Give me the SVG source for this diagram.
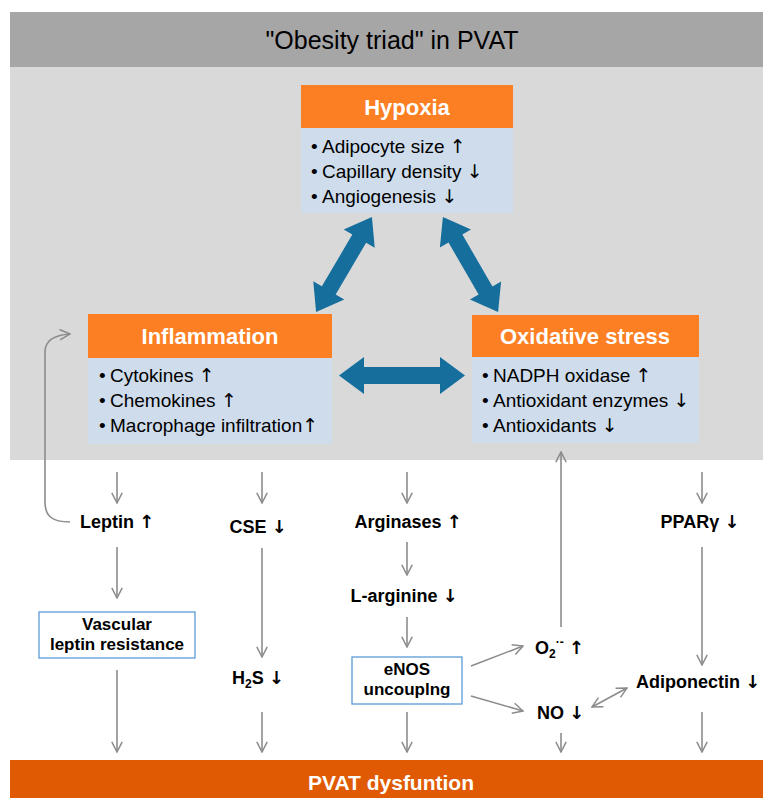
<svg xmlns="http://www.w3.org/2000/svg" width="763" height="798" viewBox="0 0 763 798">
<style>
  .t { font-family: "Liberation Sans", Arial, sans-serif; }
  .hdr { font-family: "Liberation Sans", Arial, sans-serif; font-weight: bold; font-size: 22px; fill: #ffffff; text-anchor: middle; }
  .bul { font-family: "Liberation Sans", Arial, sans-serif; font-size: 19px; fill: #000000; }
  .lab { font-family: "Liberation Sans", Arial, sans-serif; font-weight: bold; font-size: 18px; fill: #000000; }
  .lab2 { font-family: "Liberation Sans", Arial, sans-serif; font-weight: bold; font-size: 17px; fill: #000000; text-anchor: middle; }
  .ar { font-family: "DejaVu Sans", sans-serif; }
  .mid { text-anchor: middle; }
  .orange { fill: #fd7f23; }
  .body { fill: #cedcec; }
  .conn { stroke: #8c8c8c; stroke-width: 1.6; fill: none; }
  .blue { fill: #156e9c; }
  .wbox { fill: #ffffff; stroke: #5b9bd5; stroke-width: 1.3; }
</style>
<defs>
  <marker id="ah" viewBox="0 0 12 12" refX="11" refY="6" markerWidth="12" markerHeight="12" markerUnits="userSpaceOnUse" orient="auto-start-reverse">
    <path d="M0.8,0.8 L11,6 L0.8,11.2" fill="none" stroke="#8c8c8c" stroke-width="1.5"/>
  </marker>
</defs>

<rect x="0" y="0" width="763" height="798" fill="#ffffff"/>
<g id="background">
  <rect x="10" y="12" width="753" height="55" fill="#a6a6a6"/>
  <rect x="10" y="67" width="753" height="393" fill="#d9d9d9"/>
  <text class="t" x="392" y="49" font-size="25" text-anchor="middle" fill="#000000">"Obesity triad" in PVAT</text>
</g>

<g id="hypoxia">
  <rect class="orange" x="301" y="85" width="212" height="43"/>
  <rect class="body" x="301" y="128" width="212" height="85"/>
  <text class="hdr" x="407" y="115">Hypoxia</text>
  <text class="bul" y="153"><tspan x="311">•</tspan><tspan x="322">Adipocyte size </tspan><tspan class="ar">↑</tspan></text>
  <text class="bul" y="178"><tspan x="311">•</tspan><tspan x="322">Capillary density </tspan><tspan class="ar">↓</tspan></text>
  <text class="bul" y="203"><tspan x="311">•</tspan><tspan x="322">Angiogenesis </tspan><tspan class="ar">↓</tspan></text>
</g>

<g id="inflammation">
  <rect class="orange" x="88" y="314" width="244" height="44"/>
  <rect class="body" x="88" y="358" width="244" height="86"/>
  <text class="hdr" x="210" y="344">Inflammation</text>
  <text class="bul" y="382"><tspan x="99">•</tspan><tspan x="110">Cytokines </tspan><tspan class="ar">↑</tspan></text>
  <text class="bul" y="407"><tspan x="99">•</tspan><tspan x="110">Chemokines </tspan><tspan class="ar">↑</tspan></text>
  <text class="bul" y="432"><tspan x="99">•</tspan><tspan x="110">Macrophage infiltration</tspan><tspan class="ar">↑</tspan></text>
</g>

<g id="oxidative-stress">
  <rect class="orange" x="472" y="315" width="227" height="42"/>
  <rect class="body" x="472" y="357" width="227" height="86"/>
  <text class="hdr" x="585" y="344">Oxidative stress</text>
  <text class="bul" y="382"><tspan x="482">•</tspan><tspan x="493">NADPH oxidase </tspan><tspan class="ar">↑</tspan></text>
  <text class="bul" y="407"><tspan x="482">•</tspan><tspan x="493">Antioxidant enzymes </tspan><tspan class="ar">↓</tspan></text>
  <text class="bul" y="432"><tspan x="482">•</tspan><tspan x="493">Antioxidants </tspan><tspan class="ar">↓</tspan></text>
</g>

<g id="leptin"><text class="lab mid" x="117" y="528">Leptin <tspan class="ar">↑</tspan></text></g>
<g id="vascular-leptin-resistance">
  <rect class="wbox" x="39" y="612" width="156" height="46"/>
  <text class="lab2" x="117" y="630">Vascular</text>
  <text class="lab2" x="117" y="650">leptin resistance</text>
</g>
<g id="cse"><text class="lab mid" x="258" y="533">CSE <tspan class="ar">↓</tspan></text></g>
<g id="h2s"><text class="lab mid" x="258" y="684">H<tspan font-size="12" dy="4">2</tspan><tspan dy="-4">S </tspan><tspan class="ar">↓</tspan></text></g>
<g id="arginases"><text class="lab mid" x="408" y="528">Arginases <tspan class="ar">↑</tspan></text></g>
<g id="l-arginine"><text class="lab mid" x="404" y="602">L-arginine <tspan class="ar">↓</tspan></text></g>
<g id="enos-uncoupling">
  <rect class="wbox" x="352" y="657" width="110" height="47"/>
  <text class="lab2" x="407" y="675">eNOS</text>
  <text class="lab2" x="407" y="695">uncouplng</text>
</g>
<g id="superoxide"><text class="lab" x="535" y="654">O<tspan font-size="12" dy="4">2</tspan><tspan font-size="12" dy="-12">·-</tspan><tspan dy="8"> </tspan><tspan class="ar">↑</tspan></text></g>
<g id="no"><text class="lab" x="537" y="719">NO <tspan class="ar">↓</tspan></text></g>
<g id="ppar"><text class="lab mid" x="700" y="528">PPARγ <tspan class="ar">↓</tspan></text></g>
<g id="adiponectin"><text class="lab" x="636" y="688">Adiponectin <tspan class="ar">↓</tspan></text></g>

<g id="pvat-dysfunction">
  <rect x="10" y="760" width="753" height="38" fill="#df5a02"/>
  <text class="t" x="391" y="790" font-size="21" font-weight="bold" fill="#ffffff" text-anchor="middle">PVAT dysfuntion</text>
</g>

<g id="connectors">
  <path class="blue" transform="translate(344,264.5) rotate(120.5)" d="M-55,0 L-30,-18 L-30,-8 L30,-8 L30,-18 L55,0 L30,18 L30,8 L-30,8 L-30,18 Z"/>
  <path class="blue" transform="translate(470.5,264.5) rotate(59.9)" d="M-55,0 L-30,-18 L-30,-8 L30,-8 L30,-18 L55,0 L30,18 L30,8 L-30,8 L-30,18 Z"/>
  <path class="blue" transform="translate(402,375.5)" d="M-63,0 L-38,-18.5 L-38,-8.5 L38,-8.5 L38,-18.5 L63,0 L38,18.5 L38,8.5 L-38,8.5 L-38,18.5 Z"/>

  <path class="conn" marker-end="url(#ah)" d="M70,522 C52,522 45,516 45,502 L45,352 C45,341 54,335 70,334"/>

  <line class="conn" marker-end="url(#ah)" x1="117" y1="472" x2="117" y2="503"/>
  <line class="conn" marker-end="url(#ah)" x1="117" y1="547" x2="117" y2="598"/>
  <line class="conn" marker-end="url(#ah)" x1="117" y1="670" x2="117" y2="752"/>

  <line class="conn" marker-end="url(#ah)" x1="262" y1="472" x2="262" y2="503"/>
  <line class="conn" marker-end="url(#ah)" x1="262" y1="548" x2="262" y2="657"/>
  <line class="conn" marker-end="url(#ah)" x1="262" y1="712" x2="262" y2="752"/>

  <line class="conn" marker-end="url(#ah)" x1="407" y1="472" x2="407" y2="503"/>
  <line class="conn" marker-end="url(#ah)" x1="407" y1="542" x2="407" y2="575"/>
  <line class="conn" marker-end="url(#ah)" x1="407" y1="617" x2="407" y2="647"/>
  <line class="conn" marker-end="url(#ah)" x1="407" y1="712" x2="407" y2="752"/>

  <line class="conn" marker-end="url(#ah)" x1="561" y1="627" x2="561" y2="452"/>
  <line class="conn" marker-end="url(#ah)" x1="561" y1="733" x2="561" y2="752"/>

  <line class="conn" marker-end="url(#ah)" x1="471" y1="666" x2="523" y2="646"/>
  <line class="conn" marker-end="url(#ah)" x1="471" y1="696" x2="523" y2="711"/>
  <line class="conn" marker-start="url(#ah)" marker-end="url(#ah)" x1="592" y1="707" x2="627" y2="688"/>

  <line class="conn" marker-end="url(#ah)" x1="702" y1="472" x2="702" y2="503"/>
  <line class="conn" marker-end="url(#ah)" x1="702" y1="547" x2="702" y2="665"/>
  <line class="conn" marker-end="url(#ah)" x1="702" y1="712" x2="702" y2="752"/>
</g>
</svg>
